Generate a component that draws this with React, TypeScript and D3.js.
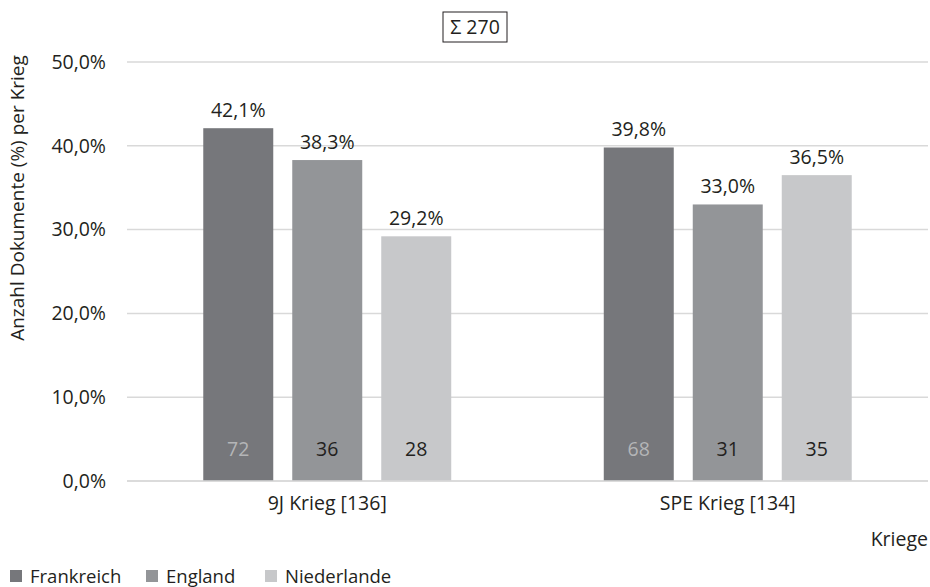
import React from "react";
import * as d3 from "d3";

const categories = ["9J Krieg [136]", "SPE Krieg [134]"];
const seriesNames = ["Frankreich", "England", "Niederlande"];
const frankreichPct = [42.1, 39.8];
const englandPct = [38.3, 33.0];
const niederlandePct = [29.2, 36.5];
const frankreichCount = [72, 68];
const englandCount = [36, 31];
const niederlandeCount = [28, 35];
const yTicks = [0, 10, 20, 30, 40, 50];
const colors = ["#76777b", "#939598", "#c7c8ca"];
const countColors = ["#b4b5b7", "#231f20", "#231f20"];

const W = 930;
const H = 587;
const left = 127;
const right = 928;
const top = 62;
const bottom = 481;
const FONT = "'Open Sans', 'Noto Sans', sans-serif";
const TXT = "#231f20";
const FS = 19.5;

export default function App() {
  const pct = [frankreichPct, englandPct, niederlandePct];
  const counts = [frankreichCount, englandCount, niederlandeCount];
  const y = d3.scaleLinear().domain([0, 50]).range([bottom, top]);
  const x0 = d3.scaleBand<string>().domain(categories).range([left, right]);
  const x1 = d3
    .scaleBand<string>()
    .domain(seriesNames)
    .range([0, x0.bandwidth()])
    .paddingInner(0.2135)
    .paddingOuter(0.857);
  const fmt = (v: number) => v.toFixed(1).replace(".", ",") + "%";

  return (
    <svg width={W} height={H} style={{ position: "absolute", left: 0, top: 0, background: "#fff" }} fontFamily={FONT}>
      <rect x={0} y={0} width={W} height={H} fill="#fff" />
      {yTicks.map((t) => (
        <g key={t}>
          <line x1={left} x2={right} y1={y(t)} y2={y(t)} stroke="#d9d9d9" strokeWidth={1.5} />
          <text x={106} y={y(t)} dy="0.35em" textAnchor="end" fontSize={FS} fill={TXT}>
            {fmt(t)}
          </text>
        </g>
      ))}
      {categories.map((c, ci) => (
        <g key={c}>
          {seriesNames.map((s, si) => {
            const v = pct[si][ci];
            const bx = (x0(c) as number) + (x1(s) as number);
            const bw = x1.bandwidth();
            return (
              <g key={s}>
                <rect x={bx} y={y(v)} width={bw} height={y(0) - y(v)} fill={colors[si]} />
                <text x={bx + bw / 2} y={y(v) - 11} textAnchor="middle" fontSize={FS} fill={TXT}>
                  {fmt(v)}
                </text>
                <text x={bx + bw / 2} y={456} textAnchor="middle" fontSize={FS} fill={countColors[si]}>
                  {counts[si][ci]}
                </text>
              </g>
            );
          })}
          <text x={(x0(c) as number) + x0.bandwidth() / 2} y={510} textAnchor="middle" fontSize={FS} fill={TXT}>
            {c}
          </text>
        </g>
      ))}
      <line x1={left} x2={right} y1={y(0)} y2={y(0)} stroke="#d9d9d9" strokeWidth={1.5} />
      <text transform={`translate(24,198) rotate(-90)`} textAnchor="middle" fontSize={19} fill={TXT}>
        Anzahl Dokumente (%) per Krieg
      </text>
      <rect x={443} y={12} width={64} height={30} fill="#fff" stroke={TXT} strokeWidth={1} />
      <text x={475} y={27} dy="0.35em" textAnchor="middle" fontSize={FS} fill={TXT}>
        Σ 270
      </text>
      <text x={928} y={546} textAnchor="end" fontSize={FS} fill={TXT}>
        Kriege
      </text>
      {seriesNames.map((s, i) => {
        const lx = [10, 146, 265][i];
        return (
          <g key={s}>
            <rect x={lx} y={570} width={12} height={12} fill={colors[i]} />
            <text x={lx + 20} y={583} fontSize={18.5} fill={TXT}>
              {s}
            </text>
          </g>
        );
      })}
    </svg>
  );
}
